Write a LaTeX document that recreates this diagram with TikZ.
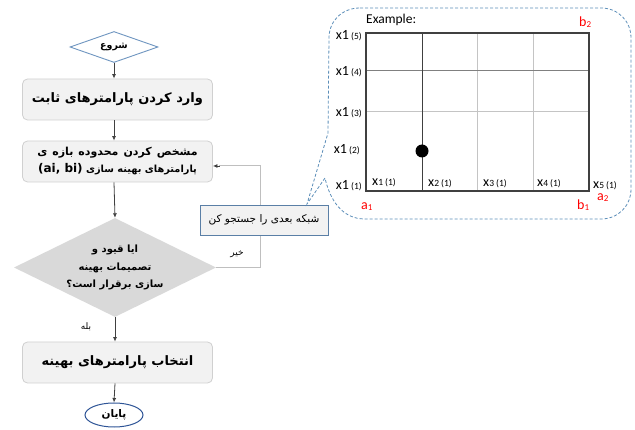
\documentclass[tikz,border=0pt]{standalone}
\usepackage{fontspec}
\setmainfont{Carlito}
\newfontfamily\fa[Script=Arabic]{DejaVu Sans}
\TeXXeTstate=1
\usetikzlibrary{shapes.geometric,arrows.meta}
\definecolor{boxfill}{HTML}{F2F2F2}
\definecolor{boxline}{HTML}{D0D0D0}
\definecolor{decfill}{HTML}{D9D9D9}
\definecolor{startblue}{HTML}{6E95C0}
\definecolor{endblue}{HTML}{2F5597}
\definecolor{callblue}{HTML}{5B8DB8}
\definecolor{searchline}{HTML}{5A7FA6}
\definecolor{arrowgray}{HTML}{404040}
\definecolor{fbgray}{HTML}{BFBFBF}
\definecolor{gridlight}{HTML}{C4C4C4}
\definecolor{gridmid}{HTML}{808080}
\newcommand\bgsm[2]{{\fontsize{14}{14}\selectfont #1}{\fontsize{9.5}{9.5}\selectfont #2}}
\newcommand\redlab[2]{\textcolor{red}{{\fontsize{14}{14}\selectfont #1}\raisebox{-1pt}{\fontsize{9}{9}\selectfont #2}}}
\tikzset{
  procbox/.style={draw=boxline, fill=boxfill, rounded corners=5pt, line width=0.8pt,
    minimum width=190pt, minimum height=41pt, inner sep=2pt, align=center,
    font=\fa\bfseries\fontsize{13}{17}\selectfont},
  decbox/.style={diamond, fill=decfill, draw=none, aspect=2.04, inner sep=0pt,
    minimum width=202pt, minimum height=99pt, align=center,
    font=\fa\bfseries\fontsize{10}{17.5}\selectfont},
  startbox/.style={diamond, draw=startblue, fill=white, aspect=2.84, inner sep=0pt,
    line width=0.9pt, minimum width=88pt, minimum height=31pt,
    font=\fa\bfseries\fontsize{9.5}{11}\selectfont},
  endbox/.style={ellipse, draw=endblue, fill=white, inner sep=0pt, line width=1pt,
    minimum width=58pt, minimum height=24pt, font=\fa\bfseries\fontsize{10.5}{11}\selectfont},
  searchbox/.style={draw=searchline, fill=boxfill, line width=0.8pt, minimum width=128pt,
    minimum height=30pt, inner sep=1pt, font=\fa\fontsize{10.5}{12}\selectfont},
  flow/.style={draw=arrowgray, line width=0.8pt, -{Latex[length=4.5pt,width=4pt]}},
  fback/.style={draw=fbgray, line width=1pt},
  lab/.style={inner sep=0pt, font=\fa\fontsize{9}{10}\selectfont},
  callout/.style={draw=callblue, line width=0.8pt, dash pattern=on 3pt off 2pt},
  gtxt/.style={inner sep=0pt}
}
\begin{document}
\begin{tikzpicture}[x=1pt,y=-1pt]
\useasboundingbox (0,0) rectangle (635,430);

% flowchart nodes
\node[startbox] (start) at (114,47) {\beginR شروع\endR};
\node[procbox] (enter) at (117.5,99.5) {\beginR وارد کردن پارامترهای ثابت\endR};
\node[procbox, font=\fa\bfseries\fontsize{11}{17}\selectfont] (bounds) at (117.5,161.5)
  {{\spaceskip=5pt\beginR مشخص کردن محدوده بازه ی\endR}\\
   {\fontsize{9.8}{17}\selectfont\beginR پارامترهای بهینه سازی \beginL{\fontsize{12}{17}\selectfont(ai, bi)}\endL\endR}};
\node[decbox] (dec) at (115,267.5) {\beginR ایا قیود و\endR\\ \beginR تصمیمات بهینه\endR\\ \beginR سازی برقرار است؟\endR};
\node[procbox] (select) at (117.5,362.5) {\beginR انتخاب پارامترهای بهینه\endR};
\node[endbox] (stop) at (114,415) {\beginR پایان\endR};

% main arrows
\draw[flow] (start.south) -- (start.south |- enter.north);
\draw[flow] (start.south |- enter.south) -- (start.south |- bounds.north);
\draw[flow] (start.south |- bounds.south) -- (dec.north);
\draw[flow] (dec.south) -- (dec.south |- select.north);
\draw[flow] (dec.south |- select.south) -- (stop.north);

% feedback loop
\coordinate (fb) at (260,166);
\draw[fback] (dec.east) -| (fb) -- ([xshift=6pt]fb -| bounds.east);
\draw[flow] ([xshift=7pt]fb -| bounds.east) -- (fb -| bounds.east);

\node[searchbox] (search) at (264,220) {\beginR شبکه بعدی را جستجو کن\endR};
\node[lab] (no) at (237,254) {\beginR خیر\endR};
\node[lab] (yes) at (86,327) {\beginR بله\endR};

% callout
\draw[callout] (360,8) -- (601,8) .. controls (618,8) and (631,21) .. (631,38)
  -- (631,189) .. controls (631,206) and (618,219) .. (601,219)
  -- (365,219) .. controls (342,219) and (330,200) .. (325,178)
  -- (307,204) -- (328,133) -- (329,38) .. controls (329,21) and (342,8) .. (360,8) -- cycle;

% grid
\draw[gridlight, line width=1pt] (477,33) -- (477,191) (533,33) -- (533,191) (366,112) -- (589,112);
\draw[gridmid, line width=1pt] (366,71) -- (589,71);
\draw[arrowgray, line width=1pt] (422,33) -- (422,191);
\draw[arrowgray, line width=1.1pt] (366,33) rectangle (589,191);
\fill[black] (422,151) circle (6.5pt);

\node[gtxt, anchor=base west, font=\fontsize{13.5}{13.5}\selectfont] (ex) at (366,24) {Example:};
\node[gtxt, anchor=base east] (l5) at (362,39.5) {\bgsm{x1}{ (5)}};
\node[gtxt, anchor=base east] (l4) at (362,75.5) {\bgsm{x1}{ (4)}};
\node[gtxt, anchor=base east] (l3) at (362,116.5) {\bgsm{x1}{ (3)}};
\node[gtxt, anchor=base east] (l2) at (360,153.5) {\bgsm{x1}{ (2)}};
\node[gtxt, anchor=base east] (l1) at (362,190) {\bgsm{x1}{ (1)}};

\node[gtxt, anchor=base west] (c1) at (372,186) {\bgsm{x}{1 (1)}};
\node[gtxt, anchor=base west] (c2) at (428,187) {\bgsm{x}{2 (1)}};
\node[gtxt, anchor=base west] (c3) at (483,187) {\bgsm{x}{3 (1)}};
\node[gtxt, anchor=base west] (c4) at (537,187) {\bgsm{x}{4 (1)}};
\node[gtxt, anchor=base west] (c5) at (593,189) {\bgsm{x}{5 (1)}};

\node[gtxt, anchor=base west] (a1) at (361,210) {\redlab{a}{1}};
\node[gtxt, anchor=base west] (b1) at (577,210) {\redlab{b}{1}};
\node[gtxt, anchor=base west] (a2) at (597,201) {\redlab{a}{2}};
\node[gtxt, anchor=base west] (b2) at (579,27) {\redlab{b}{2}};
\end{tikzpicture}
\end{document}
